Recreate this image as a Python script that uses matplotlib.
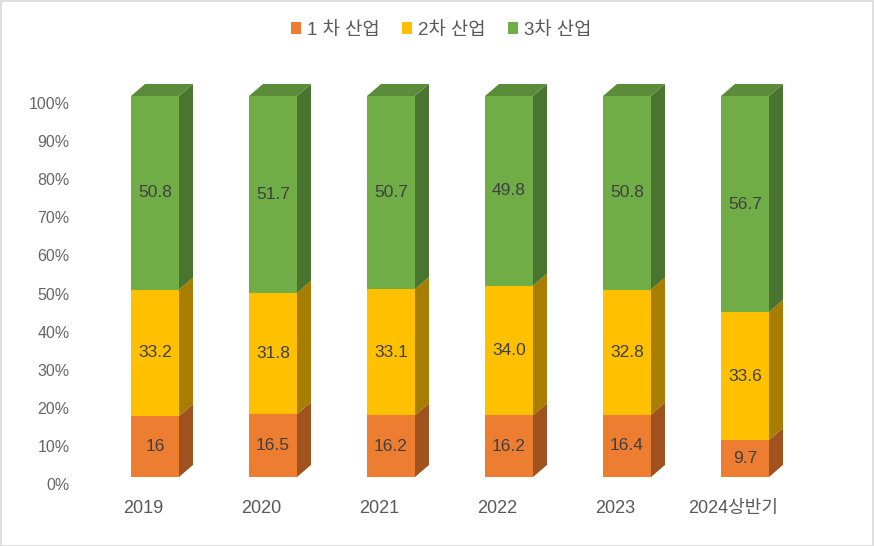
import matplotlib.pyplot as plt
import matplotlib.transforms as mtransforms
from matplotlib.patches import Polygon, Rectangle
import numpy as np

plt.rcParams['font.family'] = ['Liberation Sans', 'Noto Sans CJK KR', 'DejaVu Sans']

years = ['2019', '2020', '2021', '2022', '2023', '2024상반기']
primary = [16, 16.5, 16.2, 16.2, 16.4, 9.7]
secondary = [33.2, 31.8, 33.1, 34.0, 32.8, 33.6]
tertiary = [50.8, 51.7, 50.7, 49.8, 50.8, 56.7]
primary_lbl = ['16', '16.5', '16.2', '16.2', '16.4', '9.7']
secondary_lbl = ['33.2', '31.8', '33.1', '34.0', '32.8', '33.6']
tertiary_lbl = ['50.8', '51.7', '50.7', '49.8', '50.8', '56.7']
names = ['1 차 산업', '2차 산업', '3차 산업']

front = ['#ED7D31', '#FFC000', '#70AD47']
side = ['#A0521F', '#A87E00', '#4A7530']
top = ['#B55E25', '#BF9000', '#5A8C3A']

W, H = 874, 546
fig = plt.figure(figsize=(W / 100, H / 100), dpi=100)
fig.patches.append(Rectangle((0.5 / W, 0.5 / H), 1 - 1.5 / W, 1 - 1.5 / H,
                             transform=fig.transFigure, fill=False,
                             edgecolor='#D9D9D9', lw=1.2))

# axes box in pixels: x -0.5 -> 96px, 5.5 -> 804px ; y 0 -> 477px, 100 -> 96px
ax = fig.add_axes([96 / W, (H - 477) / H, 708 / W, 381 / H])
ax.set_xlim(-0.5, 5.5)
ax.set_ylim(0, 100)
for s in ax.spines.values():
    s.set_visible(False)

bw = 48 / 118.0           # bar width in x units
dx = 14 / 118.0           # depth in x units
dy = 12 / 3.81            # depth in y units

x = np.arange(len(years))
series = [primary, secondary, tertiary]
labels = [primary_lbl, secondary_lbl, tertiary_lbl]
bottom = np.zeros(len(years))
for k, vals in enumerate(series):
    vals = np.array(vals, dtype=float)
    for i in range(len(years)):
        x0 = x[i] - bw / 2
        x1 = x[i] + bw / 2
        y0 = bottom[i]
        y1 = bottom[i] + vals[i]
        ax.add_patch(Rectangle((x0, y0), bw, vals[i], facecolor=front[k],
                               edgecolor='none', zorder=3, clip_on=False))
        ax.add_patch(Polygon([(x1, y0), (x1 + dx, y0 + dy), (x1 + dx, y1 + dy), (x1, y1)],
                             closed=True, facecolor=side[k], edgecolor='none', zorder=2,
                             clip_on=False))
        if k == len(series) - 1:
            ax.add_patch(Polygon([(x0, y1), (x0 + dx, y1 + dy), (x1 + dx, y1 + dy), (x1, y1)],
                                 closed=True, facecolor=top[k], edgecolor='none', zorder=2,
                                 clip_on=False))
        ax.text(x[i], (y0 + y1) / 2, labels[k][i], ha='center', va='center',
                fontsize=12.5, color='#404040', zorder=4)
    bottom += vals

ax.set_yticks(np.arange(0, 101, 10))
ax.set_yticklabels(['{}%'.format(v) for v in range(0, 101, 10)])
ax.tick_params(axis='y', length=0, pad=19, labelsize=11.5, labelcolor='#666666')
shift = mtransforms.ScaledTranslation(0, -7 / 100, fig.dpi_scale_trans)
for lab in ax.get_yticklabels():
    lab.set_transform(lab.get_transform() + shift)

ax.set_xticks(x)
ax.set_xticklabels(years)
ax.tick_params(axis='x', length=0, pad=16.5, labelsize=13, labelcolor='#595959')
xshift = mtransforms.ScaledTranslation(-12 / 100, 0, fig.dpi_scale_trans)
for lab in ax.get_xticklabels():
    lab.set_transform(lab.get_transform() + xshift)

handles = [Rectangle((0, 0), 1, 1, facecolor=c) for c in front]
fig.legend(handles, names, loc='center', bbox_to_anchor=(0.5 + 4 / W, 1 - 30 / H),
           ncol=3, frameon=False, fontsize=13.5, labelcolor='#595959',
           handlelength=0.55, handleheight=0.55, handletextpad=0.3, columnspacing=1.2)

fig.savefig('out.png', dpi=100)
